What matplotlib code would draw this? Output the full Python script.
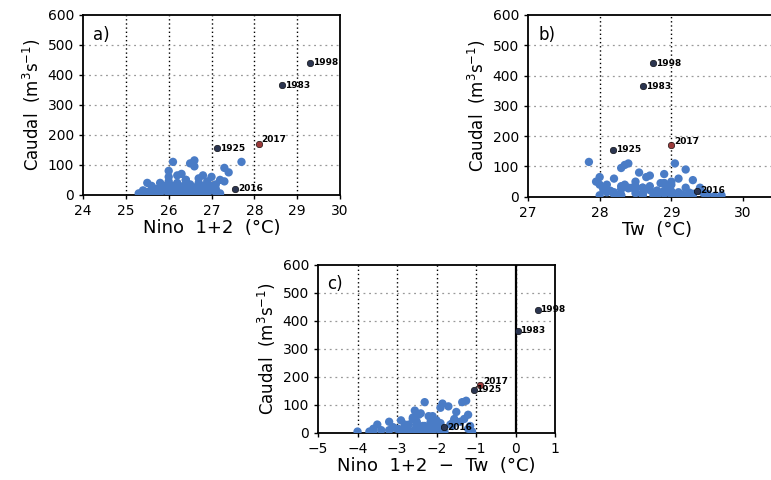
import numpy as np
import matplotlib.pyplot as plt

# background years: Nino 1+2 SST, water temperature Tw, river discharge
nino = np.array([25.3, 25.4, 25.5, 25.6, 25.7, 25.8, 25.9, 26.0, 26.0, 26.1,
                 26.1, 26.2, 26.2, 26.3, 26.3, 26.4, 26.4, 26.5, 26.5, 26.6,
                 26.6, 26.7, 26.7, 26.8, 26.8, 26.9, 27.0, 27.0, 27.1, 27.2,
                 27.3, 27.4, 27.7, 26.2, 26.6, 25.5, 26.0, 26.4, 26.9, 25.9,
                 26.3, 26.7, 27.1, 25.6, 26.0, 25.8, 26.5, 27.2, 25.4, 26.8,
                 25.7, 25.9, 26.1, 26.2, 26.3, 26.4, 26.5, 26.6, 26.7, 26.8,
                 26.9, 27.0, 27.1, 26.0, 26.2, 26.4, 26.6, 26.3, 26.5, 25.6,
                 26.9, 27.3, 26.1, 26.7, 25.8])
tw = np.array([29.3, 29.0, 28.9, 29.2, 28.8, 28.6, 29.4, 28.2, 28.9, 28.4,
               29.1, 28.5, 28.0, 28.7, 29.5, 28.3, 29.0, 28.6, 28.35, 27.85,
               28.8, 28.1, 29.3, 28.45, 29.6, 28.9, 28.2, 29.1, 28.7, 28.5,
               29.2, 28.9, 29.05, 28.65, 28.3, 28.0, 29.7, 27.95, 28.05, 28.1,
               28.2, 28.6, 29.4, 28.4, 28.55, 29.0, 29.2, 28.3, 28.25, 28.0,
               28.5, 28.7, 28.8, 29.0, 28.4, 28.6, 28.9, 29.1, 28.3, 28.8,
               29.0, 28.6, 29.3, 28.15, 28.35, 28.75, 28.95, 29.25, 28.5, 28.3,
               29.45, 28.85, 28.6, 29.15, 28.9])
caudal = np.array([5, 15, 10, 3, 20, 8, 30, 60, 45, 110,
                   15, 25, 5, 70, 10, 35, 50, 5, 105, 115,
                   20, 40, 55, 30, 2, 45, 15, 60, 35, 50,
                   90, 75, 110, 65, 95, 40, 5, 50, 25, 15,
                   8, 12, 20, 30, 80, 40, 30, 5, 2, 65,
                   12, 22, 4, 18, 28, 10, 15, 8, 25, 18,
                   6, 30, 10, 20, 40, 5, 25, 14, 35, 6,
                   12, 45, 30, 8, 20])

# labelled years
years = ['1998', '1983', '1925', '2017', '2016']
nino_y = np.array([29.3, 28.65, 27.13, 28.1, 27.55])
tw_y = np.array([28.74, 28.6, 28.19, 29.0, 29.36])
caudal_y = np.array([440, 365, 155, 170, 20])

blue = '#4a7cc6'
dark = '#2b3550'
red = '#9b3a3a'


def panel(ax, x, xy, xlim, xticks, xlabel, tag):
    ax.scatter(x, caudal, s=36, color=blue, edgecolors='none', zorder=3)
    for i, yr in enumerate(years):
        c = red if yr == '2017' else dark
        ax.scatter(xy[i], caudal_y[i], s=22, color=c, edgecolors='k',
                   linewidths=0.4, zorder=4)
        dy = 14 if yr == '2017' else 0
        ax.text(xy[i] + 0.012 * (xlim[1] - xlim[0]), caudal_y[i] + dy, yr,
                fontsize=6.5, fontweight='bold', va='center', ha='left',
                zorder=5)
    ax.set_xlim(xlim)
    ax.set_ylim(0, 600)
    ax.set_xticks(xticks)
    ax.set_yticks(range(0, 601, 100))
    for t in xticks[1:-1]:
        ax.axvline(t, color='k', ls=(0, (1, 2)), lw=1.0, zorder=1)
    for t in range(100, 600, 100):
        ax.axhline(t, color='#999999', ls=(0, (1.5, 3)), lw=0.9, zorder=1)
    ax.tick_params(direction='out', length=3, width=1, labelsize=10)
    for s in ax.spines.values():
        s.set_linewidth(1.3)
    ax.set_xlabel(xlabel, fontsize=13, labelpad=1)
    ax.set_ylabel('Caudal  (m$^3$s$^{-1}$)', fontsize=12, labelpad=3)
    ax.text(0.04, 0.94, tag, transform=ax.transAxes, fontsize=12,
            va='top', ha='left')


fig = plt.figure(figsize=(7.71, 4.8), dpi=100)
ax_a = fig.add_axes([0.1077, 0.594, 0.3333, 0.375])
ax_b = fig.add_axes([0.6848, 0.590, 0.3347, 0.379])
ax_c = fig.add_axes([0.4125, 0.098, 0.3074, 0.350])

panel(ax_a, nino, nino_y, (24, 30), [24, 25, 26, 27, 28, 29, 30],
      'Nino  1+2  (°C)', 'a)')
panel(ax_b, tw, tw_y, (27, 30.6), [27, 28, 29, 30], 'Tw  (°C)', 'b)')
panel(ax_c, nino - tw, nino_y - tw_y, (-5, 1), [-5, -4, -3, -2, -1, 0, 1],
      'Nino  1+2  −  Tw  (°C)', 'c)')
ax_c.axvline(0, color='k', lw=1.6, zorder=2)

fig.savefig('out.png', dpi=100)
